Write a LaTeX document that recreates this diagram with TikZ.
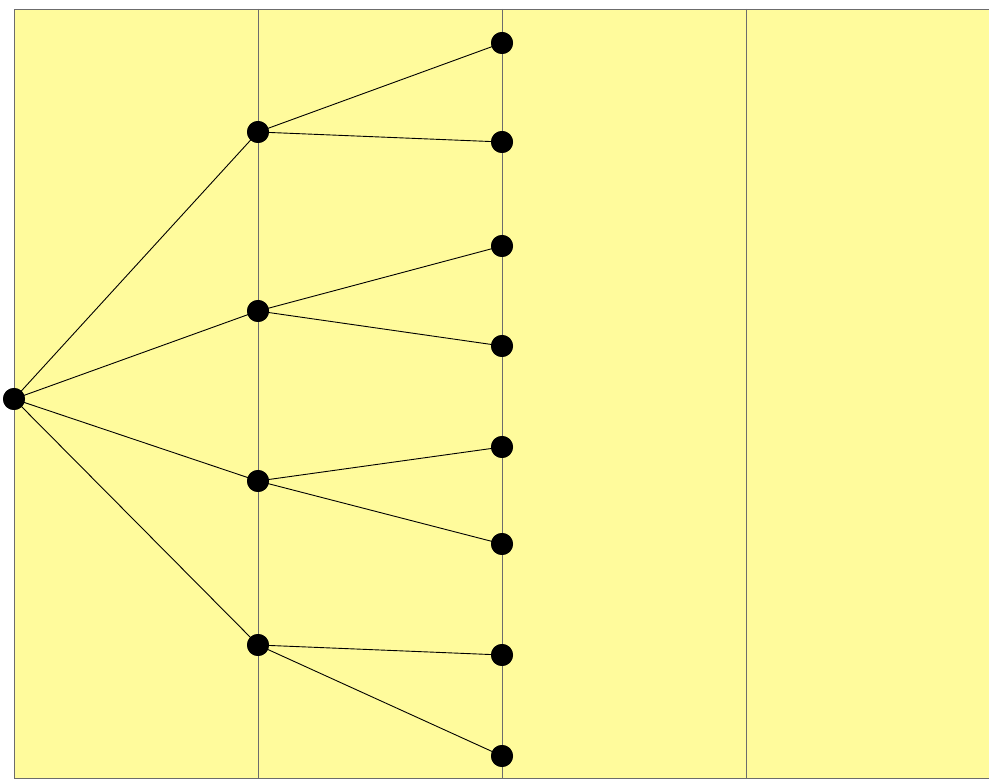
\documentclass[tikz,border=0pt]{standalone}
\begin{document}
\begin{tikzpicture}[x=1pt,y=-1pt,
  dot/.style={circle,fill=black,inner sep=0pt,minimum size=22pt},
  edge/.style={draw=black,line width=0.9pt},
  grid/.style={draw=gray!85!black,line width=0.9pt}]
\useasboundingbox (0,0) rectangle (989,783);
\fill[white] (0,0) rectangle (989,783);
\fill[fill={rgb,255:red,255;green,251;blue,156}] (14,9) rectangle (989,778);
\draw[grid] (989,9) -- (14,9) -- (14,778) -- (989,778);
\draw[grid] (258,9) -- (258,778);
\draw[grid] (502,9) -- (502,778);
\draw[grid] (746,9) -- (746,778);
\node[dot] (r) at (14,399) {};
\node[dot] (a) at (258,132) {};
\node[dot] (b) at (258,311) {};
\node[dot] (c) at (258,481) {};
\node[dot] (d) at (258,645) {};
\node[dot] (a1) at (502,43) {};
\node[dot] (a2) at (502,142) {};
\node[dot] (b1) at (502,246) {};
\node[dot] (b2) at (502,346) {};
\node[dot] (c1) at (502,447) {};
\node[dot] (c2) at (502,544) {};
\node[dot] (d1) at (502,655) {};
\node[dot] (d2) at (502,756) {};
\foreach \t in {a,b,c,d} {\draw[edge] (r.center) -- (\t.center);}
\foreach \s in {a,b,c,d} {\draw[edge] (\s.center) -- (\s1.center); \draw[edge] (\s.center) -- (\s2.center);}
\foreach \n in {r,a,b,c,d,a1,a2,b1,b2,c1,c2,d1,d2} {\node[dot] at (\n) {};}
\end{tikzpicture}
\end{document}
